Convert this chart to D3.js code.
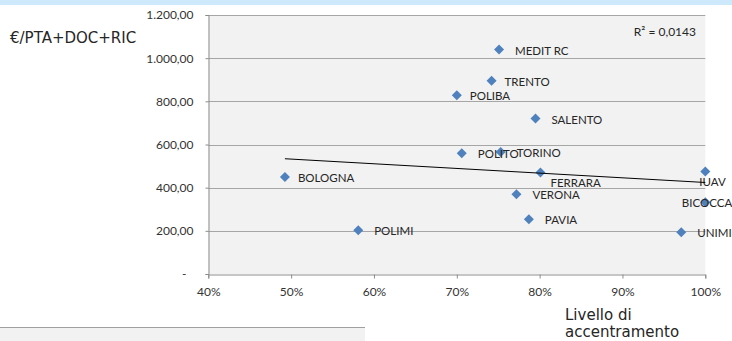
<!DOCTYPE html>
<html>
<head>
<meta charset="utf-8">
<script src="https://cdn.jsdelivr.net/npm/d3@7"></script>
<style>
  html, body { margin: 0; padding: 0; background: #ffffff; }
  svg { display: block; }
</style>
</head>
<body>
<svg id="chart" width="732" height="341"></svg>
<script>
// ---- data ----
const universities = ["BOLOGNA", "POLIMI", "POLIBA", "POLITO", "TRENTO", "MEDIT RC", "TORINO",
  "VERONA", "PAVIA", "SALENTO", "FERRARA", "UNIMI", "BICOCCA", "IUAV"];
const accentramento = [0.4925, 0.581, 0.700, 0.706, 0.742, 0.751, 0.753,
  0.772, 0.787, 0.795, 0.801, 0.971, 1.000, 1.000];
const euroPerStaff = [449, 203, 828, 560, 895, 1040, 565,
  370, 254, 720, 470, 194, 333, 475];
const trendX = [0.4925, 1.000];
const trendY = [534, 424];
const rSquaredLabel = "R² = 0,0143";
const xTicks = [0.4, 0.5, 0.6, 0.7, 0.8, 0.9, 1.0];
const yTicks = [0, 200, 400, 600, 800, 1000, 1200];
const yTitle = "€/PTA+DOC+RIC";
const xTitle = ["Livello di", "accentramento"];

// ---- drawing ----
const svg = d3.select("#chart");
const labelFont = "Lato, 'Open Sans', sans-serif";
const titleFont = "'DejaVu Sans', Verdana, sans-serif";

const x = d3.scaleLinear().domain([0.4, 1.0]).range([208.3, 705.3]);
const y = d3.scaleLinear().domain([0, 1200]).range([274, 15]);

// top band
svg.append("rect").attr("x", 0).attr("y", 0).attr("width", 732).attr("height", 5).attr("fill", "#cde9fb");

// bottom-left panel
svg.append("rect").attr("x", 0).attr("y", 327).attr("width", 365).attr("height", 14).attr("fill", "#f2f2f2");
svg.append("line").attr("x1", 0).attr("x2", 365).attr("y1", 327.5).attr("y2", 327.5)
  .attr("stroke", "#a0a0a0").attr("stroke-width", 1);

// plot area
svg.append("rect").attr("x", x(0.4)).attr("y", y(1200)).attr("width", x(1.0) - x(0.4))
  .attr("height", y(0) - y(1200)).attr("fill", "#f2f2f2");

// gridlines
svg.append("g").selectAll("line").data(yTicks.filter(d => d > 0)).join("line")
  .attr("x1", x(0.4)).attr("x2", x(1.0))
  .attr("y1", d => Math.round(y(d)) + 0.5).attr("y2", d => Math.round(y(d)) + 0.5)
  .attr("stroke", "#a6a6a6").attr("stroke-width", 1);

// y axis
const yAxis = d3.axisLeft(y).tickValues(yTicks).tickSize(3).tickPadding(12)
  .tickFormat(d => d === 0 ? "-" : d3.format(",.2f")(d).replace(/,/g, "#").replace(/\./g, ",").replace(/#/g, "."));
const gy = svg.append("g").attr("transform", `translate(${Math.round(x(0.4)) + 0.5},0)`).call(yAxis);
gy.select(".domain").attr("stroke", "#8c8c8c");
gy.selectAll(".tick line").attr("stroke", "#8c8c8c");
gy.selectAll(".tick text").attr("font-family", labelFont).attr("font-size", 12).attr("fill", "#333")
  .attr("dx", d => d === 0 ? -7 : 0);

// x axis
const xAxis = d3.axisBottom(x).tickValues(xTicks).tickSize(4).tickPadding(9)
  .tickFormat(d3.format(".0%"));
const gx = svg.append("g").attr("transform", `translate(0,${Math.round(y(0)) + 0.5})`).call(xAxis);
gx.select(".domain").attr("stroke", "#8c8c8c");
gx.selectAll(".tick line").attr("stroke", "#8c8c8c");
gx.selectAll(".tick text").attr("font-family", labelFont).attr("font-size", 12).attr("fill", "#333");

// points
const pts = universities.map((name, i) => ({ name, xv: accentramento[i], yv: euroPerStaff[i] }));
svg.append("g").selectAll("path").data(pts).join("path")
  .attr("transform", d => `translate(${x(d.xv)},${y(d.yv)})`)
  .attr("d", "M0,-5L5,0L0,5L-5,0Z")
  .attr("fill", "#4f81bd");

// point labels
const nudge = { "FERRARA": [10, 14], "IUAV": [-6, 15], "BICOCCA": [-23.5, 4.5], "TRENTO": [13, 5], "POLIBA": [13, 5], "BOLOGNA": [13, 5] };
svg.append("g").selectAll("text").data(pts).join("text")
  .attr("x", d => x(d.xv) + (nudge[d.name] ? nudge[d.name][0] : 16))
  .attr("y", d => y(d.yv) + (nudge[d.name] ? nudge[d.name][1] : 5))
  .attr("font-family", labelFont).attr("font-size", 11.5).attr("fill", "#262626")
  .text(d => d.name);

// trend line
svg.append("line")
  .attr("x1", x(trendX[0])).attr("y1", y(trendY[0]))
  .attr("x2", x(trendX[1])).attr("y2", y(trendY[1]))
  .attr("stroke", "#000").attr("stroke-width", 1);

// R² label
svg.append("text").attr("x", 696).attr("y", 36).attr("text-anchor", "end")
  .attr("font-family", labelFont).attr("font-size", 12).attr("fill", "#262626")
  .text(rSquaredLabel);

// axis titles
svg.append("text").attr("x", 10).attr("y", 43)
  .attr("font-family", titleFont).attr("font-size", 15).attr("fill", "#262626")
  .text(yTitle);
svg.append("text").attr("font-family", titleFont).attr("font-size", 15).attr("fill", "#262626")
  .selectAll("tspan").data(xTitle).join("tspan")
  .attr("x", 565).attr("y", (d, i) => 320 + i * 16.5)
  .text(d => d);
</script>
</body>
</html>
